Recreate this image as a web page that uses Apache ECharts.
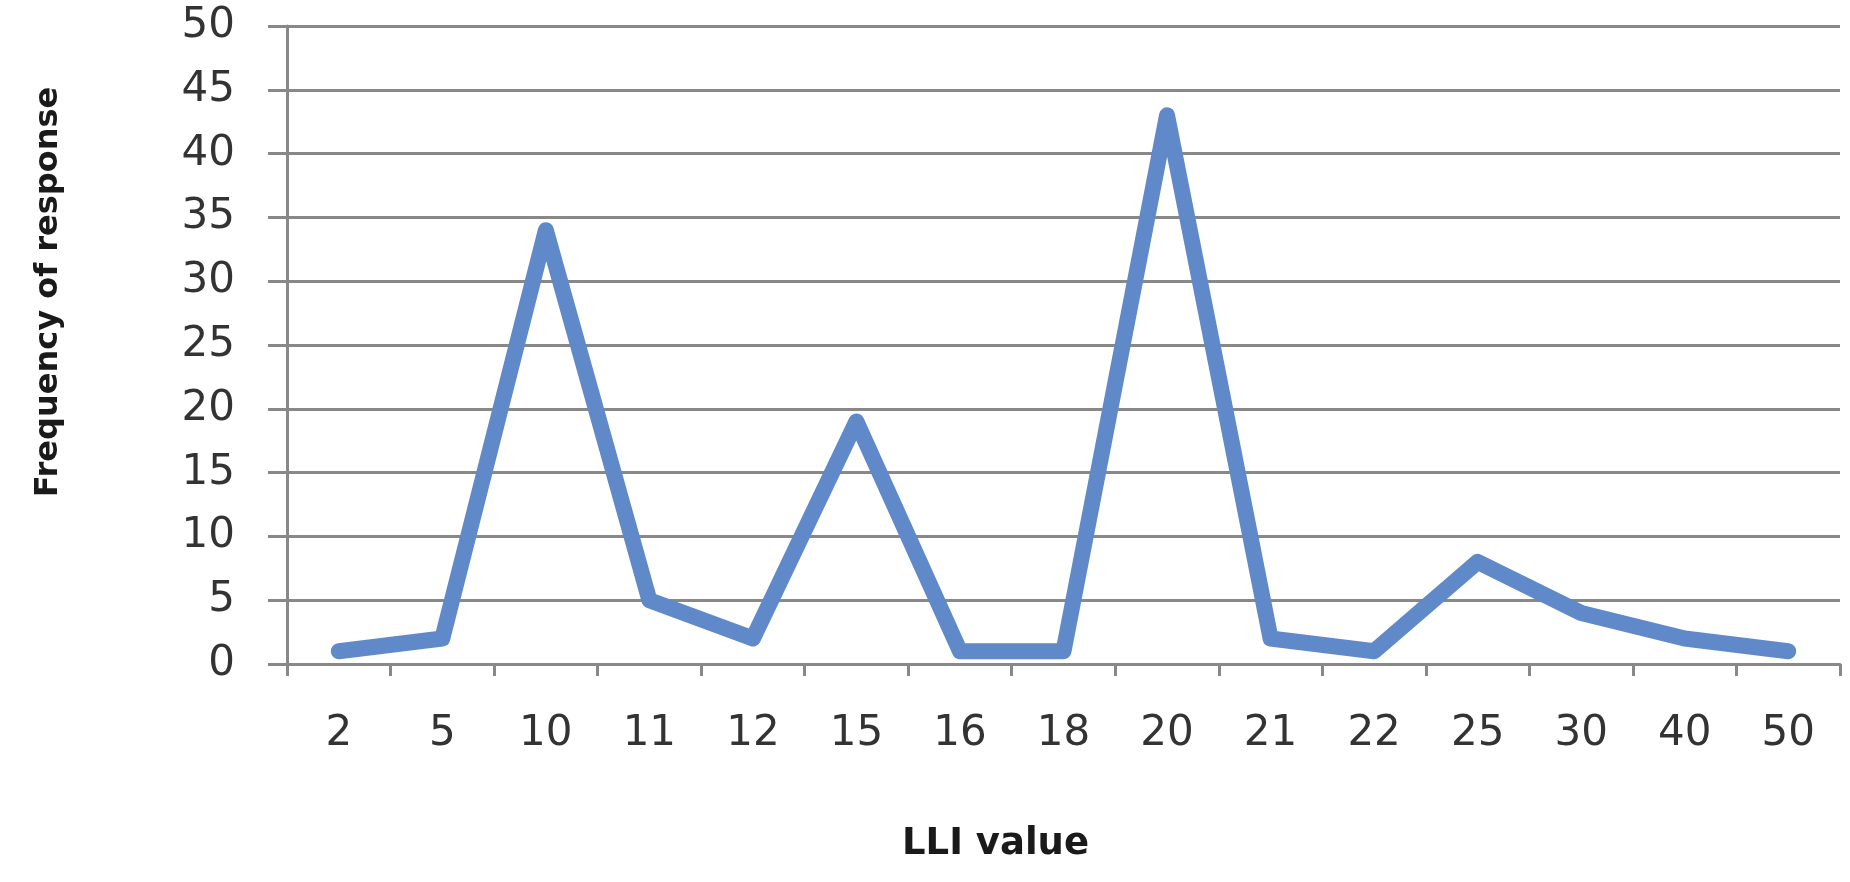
<!DOCTYPE html>
<html>
<head>
<meta charset="utf-8">
<script src="https://cdn.jsdelivr.net/npm/echarts@6/dist/echarts.min.js"></script>
<style>html,body{margin:0;padding:0;background:#fff}#c{width:1850px;height:882px}</style>
</head>
<body>
<div id="c"></div>
<script>
const categories = ['2','5','10','11','12','15','16','18','20','21','22','25','30','40','50'];
const frequency = [1, 2, 34, 5, 2, 19, 1, 1, 43, 2, 1, 8, 4, 2, 1];
const yTicks = {min: 0, max: 50, interval: 5};
const xName = 'LLI value';
const yName = 'Frequency of response';

const chart = echarts.init(document.getElementById('c'), null, {renderer: 'canvas'});
chart.setOption({
  animation: false,
  backgroundColor: '#ffffff',
  grid: {left: 287, right: 10, top: 26, bottom: 218, containLabel: false},
  xAxis: {
    type: 'category',
    data: categories,
    boundaryGap: true,
    name: xName,
    nameLocation: 'middle',
    nameGap: 162,
    nameTextStyle: {fontFamily: 'DejaVu Sans', fontWeight: 'bold', fontSize: 37, color: '#1a1a1a', padding: [0, 136, 0, 0]},
    axisLine: {show: true, lineStyle: {color: '#888888', width: 3}},
    axisTick: {show: true, alignWithLabel: false, length: 12, lineStyle: {color: '#888888', width: 3}},
    axisLabel: {margin: 49, fontFamily: 'DejaVu Sans', fontSize: 42, color: '#333333'},
    splitLine: {show: false}
  },
  yAxis: {
    type: 'value',
    min: yTicks.min, max: yTicks.max, interval: yTicks.interval,
    name: yName,
    nameLocation: 'middle',
    nameRotate: 90,
    nameGap: 222,
    nameTextStyle: {fontFamily: 'DejaVu Sans', fontWeight: 'bold', fontSize: 32, color: '#1a1a1a', padding: [0, 0, 0, 106]},
    axisLine: {show: true, lineStyle: {color: '#888888', width: 3}},
    axisTick: {show: true, inside: false, length: 19, lineStyle: {color: '#888888', width: 3}},
    axisLabel: {margin: 52, fontFamily: 'DejaVu Sans', fontSize: 42, color: '#333333'},
    splitLine: {show: true, lineStyle: {color: '#888888', width: 3}}
  },
  series: [{
    type: 'line',
    data: frequency,
    symbol: 'none',
    lineStyle: {color: '#6089c9', width: 16, join: 'round', cap: 'round'},
    itemStyle: {color: '#6089c9'}
  }]
});
</script>
</body>
</html>
